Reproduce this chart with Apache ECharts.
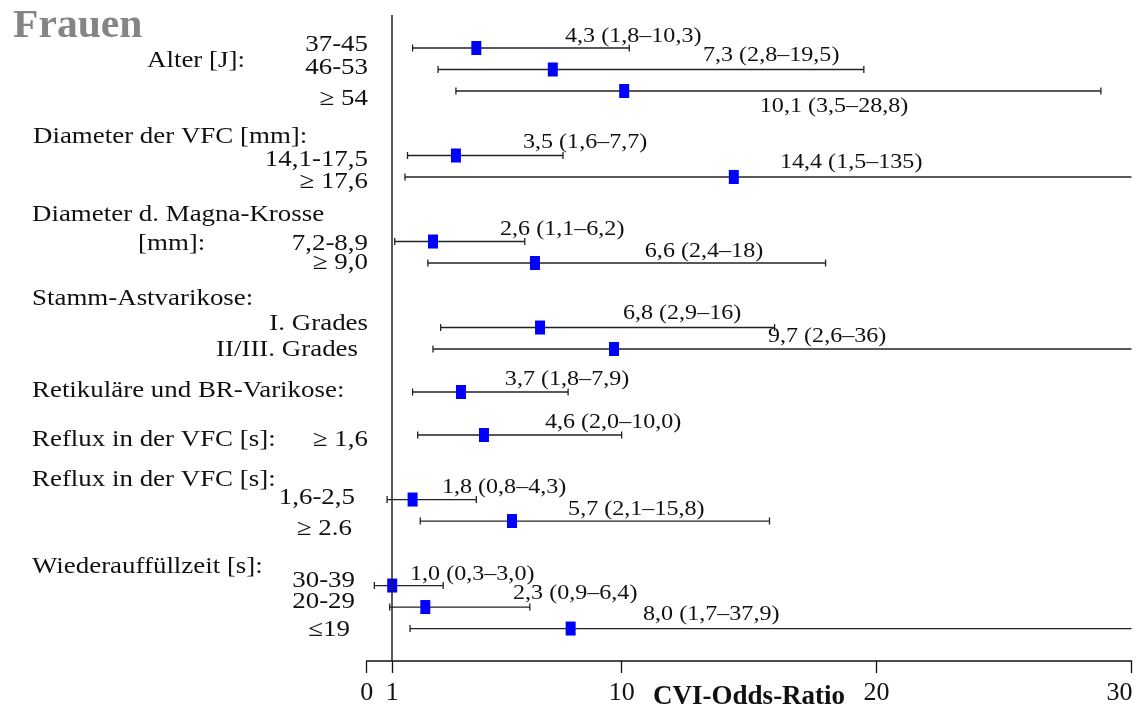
<!DOCTYPE html>
<html>
<head>
<meta charset="utf-8">
<script src="https://cdn.jsdelivr.net/npm/echarts@6/dist/echarts.min.js"></script>
<style>
  html, body { margin: 0; padding: 0; background: #fff; }
  #chart { width: 1139px; height: 710px; }
</style>
</head>
<body>
<div id="chart"></div>
<script>
// Forest plot: CVI odds ratios with 95% confidence intervals (women)
const title = 'Frauen';
const axisName = 'CVI-Odds-Ratio';
const xTicks = [0, 1, 10, 20, 30];

const groupHeadings = [
  'Alter [J]:', 'Diameter der VFC [mm]:', 'Diameter d. Magna-Krosse', '[mm]:',
  'Stamm-Astvarikose:', 'Retikuläre und BR-Varikose:', 'Reflux in der VFC [s]:',
  'Reflux in der VFC [s]:', 'Wiederauffüllzeit [s]:'
];

const categories = [
  '37-45', '46-53', '≥ 54', '14,1-17,5', '≥ 17,6', '7,2-8,9', '≥ 9,0',
  'I. Grades', 'II/III. Grades', '', '≥ 1,6', '1,6-2,5', '≥ 2.6',
  '30-39', '20-29', '≤19'
];
const oddsRatio = [4.3, 7.3, 10.1, 3.5, 14.4, 2.6, 6.6, 6.8, 9.7, 3.7, 4.6, 1.8, 5.7, 1.0, 2.3, 8.0];
const ciLow     = [1.8, 2.8, 3.5, 1.6, 1.5, 1.1, 2.4, 2.9, 2.6, 1.8, 2.0, 0.8, 2.1, 0.3, 0.9, 1.7];
const ciHigh    = [10.3, 19.5, 28.8, 7.7, 135, 6.2, 18, 16, 36, 7.9, 10.0, 4.3, 15.8, 3.0, 6.4, 37.9];
const valueLabels = [
  '4,3 (1,8–10,3)', '7,3 (2,8–19,5)', '10,1 (3,5–28,8)', '3,5 (1,6–7,7)',
  '14,4 (1,5–135)', '2,6 (1,1–6,2)', '6,6 (2,4–18)', '6,8 (2,9–16)',
  '9,7 (2,6–36)', '3,7 (1,8–7,9)', '4,6 (2,0–10,0)', '1,8 (0,8–4,3)',
  '5,7 (2,1–15,8)', '1,0 (0,3–3,0)', '2,3 (0,9–6,4)', '8,0 (1,7–37,9)'
];

// ---- layout (row slots on the vertical scale, label placement) ----
const rowSlot = [0, 1, 2, 5, 6, 9, 10, 13, 14, 16, 18, 21, 22, 25, 26, 27];
const labelStartX = [7.78, 13.19, 15.42, 6.13, 16.21, 5.23, 10.91, 10.05, 15.74, 5.42, 6.99, 2.95, 7.9, 1.7, 5.74, 10.84];
const labelDy = [-12, -14, 15, -13, -15, -12, -12, -14, -13, -13, -13, -12, -12, -11, -14, -14];
const catRight = [368, 368, 368, 368, 368, 368, 368, 368, 358, 0, 368, 355, 352, 355, 355, 350];
const catDy = [-3, -2, 8, 4, 5, 2, 0, -4, 1, 0, 5, -2, 8, -5, -5, 1];
const headingPos = [[147, 61], [33, 137], [32, 215], [138, 244], [32, 299], [32, 391], [32, 440], [32, 480], [32, 567]];

const X_MAX = 30;
const SERIF = '"Liberation Serif", "Times New Roman", serif';
const STRETCH = 1.17;

const chart = echarts.init(document.getElementById('chart'), null, { renderer: 'canvas' });

const ciData = oddsRatio.map((v, i) => [rowSlot[i], ciLow[i], ciHigh[i], i]);
const pointData = oddsRatio.map((v, i) => [v, rowSlot[i]]);

function renderCI(params, api) {
  const slot = api.value(0);
  const lo = api.value(1);
  const hi = api.value(2);
  const i = api.value(3);
  const p1 = api.coord([lo, slot]);
  const p2 = api.coord([Math.min(hi, X_MAX), slot]);
  const line = { stroke: '#222', lineWidth: 1.3 };
  const children = [
    { type: 'line', shape: { x1: p1[0], y1: p1[1], x2: p2[0], y2: p2[1] }, style: line },
    { type: 'line', shape: { x1: p1[0], y1: p1[1] - 3.5, x2: p1[0], y2: p1[1] + 3.5 }, style: line }
  ];
  if (hi <= X_MAX) {
    children.push({ type: 'line', shape: { x1: p2[0], y1: p2[1] - 3.5, x2: p2[0], y2: p2[1] + 3.5 }, style: line });
  }
  const lp = api.coord([labelStartX[i], slot]);
  children.push({
    type: 'text', x: lp[0], y: lp[1] + labelDy[i], scaleX: 1.12,
    style: { text: valueLabels[i], font: '21.5px ' + SERIF, fill: '#111', align: 'left', verticalAlign: 'middle' }
  });
  return { type: 'group', children };
}

chart.setOption({
  animation: false,
  backgroundColor: '#fff',
  grid: { left: 366.7, right: 7.5, top: 15, bottom: 49, containLabel: false, outerBoundsMode: 'none' },
  xAxis: {
    type: 'value', min: 0, max: X_MAX,
    name: axisName, nameLocation: 'middle', nameGap: 23, nameMoveOverlap: false,
    nameTextStyle: { fontFamily: SERIF, fontWeight: 'bold', fontSize: 27, color: '#111', verticalAlign: 'top' },
    axisLine: { onZero: false, lineStyle: { color: '#111', width: 1.5 } },
    axisTick: { show: true, customValues: xTicks, length: 12, lineStyle: { color: '#111', width: 1.3 } },
    axisLabel: {
      customValues: xTicks, margin: 19, fontFamily: SERIF, fontSize: 26, color: '#111',
      formatter: v => v === X_MAX ? '{r|' + v + '}' : String(v),
      rich: { r: { fontFamily: SERIF, fontSize: 26, color: '#111', padding: [0, 24, 0, 0] } }
    },
    splitLine: { show: false }
  },
  yAxis: { type: 'value', inverse: true, min: -1.535, max: 28.51, show: false },
  series: [
    {
      type: 'custom', name: 'CI', data: ciData, renderItem: renderCI, clip: false, silent: true, z: 2,
      encode: { x: [1, 2], y: 0 }
    },
    {
      type: 'scatter', name: 'OR', data: pointData, symbol: 'rect', symbolSize: [10, 14],
      itemStyle: { color: '#0000ff', opacity: 1 }, z: 3, silent: true,
      markLine: {
        silent: true, symbol: 'none', label: { show: false },
        lineStyle: { color: '#222', width: 1.5, type: 'solid' },
        data: [{ xAxis: 1 }]
      }
    }
  ]
});

// Left-hand texts: title, group headings and category labels
const graphics = [{
  type: 'text', x: 13, y: 27, scaleX: 1.04,
  style: { text: title, font: 'bold 40px ' + SERIF, fill: '#858585', align: 'left', verticalAlign: 'middle' }
}];
groupHeadings.forEach((t, k) => {
  graphics.push({
    type: 'text', x: headingPos[k][0], y: headingPos[k][1], scaleX: STRETCH,
    style: { text: t, font: '23px ' + SERIF, fill: '#111', align: 'left', verticalAlign: 'middle' }
  });
});
categories.forEach((t, i) => {
  if (!t) return;
  const y = chart.convertToPixel({ yAxisIndex: 0 }, rowSlot[i]);
  graphics.push({
    type: 'text', x: catRight[i], y: y + catDy[i], scaleX: STRETCH,
    style: { text: t, font: '23px ' + SERIF, fill: '#111', align: 'right', verticalAlign: 'middle' }
  });
});
chart.setOption({ graphic: graphics });
</script>
</body>
</html>
